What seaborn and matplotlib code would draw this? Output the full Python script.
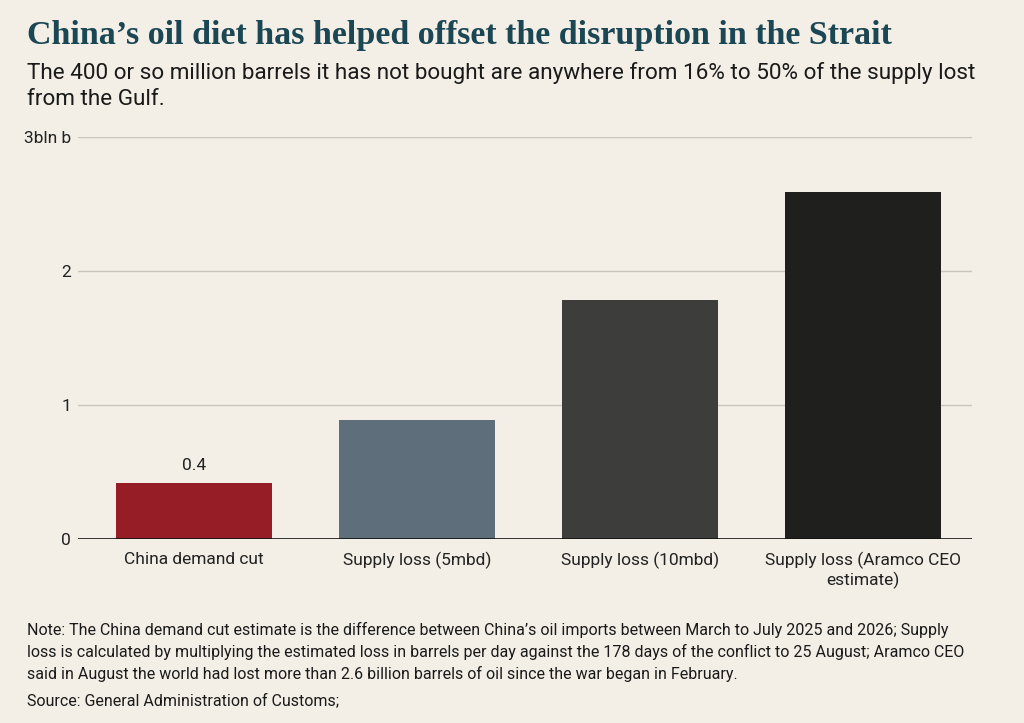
import matplotlib
matplotlib.use("Agg")
import matplotlib.pyplot as plt
import seaborn as sns
import pandas as pd

categories = ["China demand cut", "Supply loss (5mbd)", "Supply loss (10mbd)",
              "Supply loss (Aramco CEO\nestimate)"]
values = [0.42, 0.89, 1.78, 2.59]
bar_colors = ["#961c26", "#5e6f7b", "#3d3d3b", "#1f201e"]
tick_vals = [0, 1, 2, 3]
tick_labels = ["0", "1", "2", "3bln b"]

bg = "#f3efe6"
sns.set_style("white")
plt.rcParams["font.family"] = ["Roboto", "DejaVu Sans"]

df = pd.DataFrame({"category": categories, "value": values})

fig = plt.figure(figsize=(10.24, 7.23), dpi=100, facecolor=bg)
ax = fig.add_axes([78 / 1024, 1 - 539 / 723, (972 - 78) / 1024, (539 - 137) / 723])
ax.set_facecolor(bg)

sns.barplot(data=df, x="category", y="value", hue="category", palette=bar_colors,
            saturation=1, legend=False, width=0.7, ax=ax, zorder=3, edgecolor="none")

ax.set_ylim(0, 3)
ax.set_xlim(-0.52, 3.49)
ax.set_yticks(tick_vals)
ax.set_yticklabels(tick_labels)
for y in tick_vals[1:]:
    ax.axhline(y, color="#c9c5bc", lw=1, zorder=1)
ax.axhline(0, color="#111111", lw=1.2, zorder=4)
for s in ax.spines.values():
    s.set_visible(False)
ax.tick_params(axis="y", length=0, pad=5, labelsize=12.5, colors="#222222")
ax.tick_params(axis="x", length=0, pad=9, labelsize=12.5, colors="#222222")
for t in ax.get_xticklabels():
    t.set_linespacing(1.25)
ax.set_xlabel("")
ax.set_ylabel("")

ax.text(0, values[0] + 0.07, "0.4", ha="center", va="bottom", fontsize=12.5, color="#222222")

fig.text(27 / 1024, 1 - 44 / 723, "China\u2019s oil diet has helped offset the disruption in the Strait",
         family=["Liberation Serif", "DejaVu Serif"], weight="bold", fontsize=24.5,
         color="#1b4653", va="baseline")
fig.text(27 / 1024, 1 - 62 / 723,
         "The 400 or so million barrels it has not bought are anywhere from 16% to 50% of the supply lost\nfrom the Gulf.",
         fontsize=16.2, color="#1a1a1a", va="top", linespacing=1.3)

note = ("Note: The China demand cut estimate is the difference between China\u2019s oil imports between March to July 2025 and 2026; Supply\n"
        "loss is calculated by multiplying the estimated loss in barrels per day against the 178 days of the conflict to 25 August; Aramco CEO\n"
        "said in August the world had lost more than 2.6 billion barrels of oil since the war began in February.")
fig.text(27 / 1024, 1 - 622 / 723, note, fontsize=11.5, color="#1a1a1a", va="top", linespacing=1.45)
fig.text(27 / 1024, 1 - 705 / 723, "Source: General Administration of Customs;",
         fontsize=11.5, color="#1a1a1a", va="baseline")

fig.savefig("out.png", dpi=100, facecolor=bg)
